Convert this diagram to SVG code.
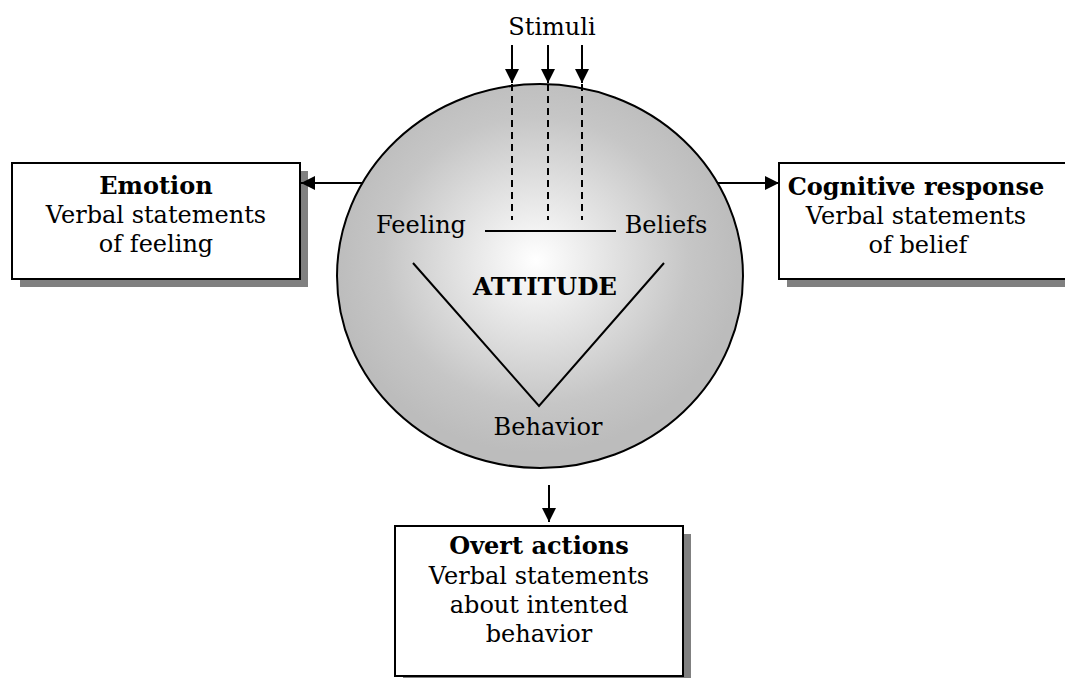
<svg xmlns="http://www.w3.org/2000/svg" width="1065" height="678" viewBox="0 0 1065 678">
  <style>
    text { font-family: "DejaVu Serif", "Liberation Serif", serif; font-size: 24px; fill: #000; text-anchor: middle; }
    .title { font-weight: bold; }
    .box { fill: #fff; stroke: #000; stroke-width: 2; }
    .shadow { fill: #808080; }
    .line { stroke: #000; stroke-width: 2; fill: none; }
    .dash { stroke: #000; stroke-width: 2; stroke-dasharray: 7 5; fill: none; }
  </style>
  <defs>
    <radialGradient id="sphere" cx="0.49" cy="0.46" r="0.5">
      <stop offset="0" stop-color="#ffffff"/>
      <stop offset="0.75" stop-color="#c6c6c6"/>
      <stop offset="1" stop-color="#bcbcbc"/>
    </radialGradient>
    <marker id="head" viewBox="0 0 10 10" refX="10" refY="5" markerWidth="14" markerHeight="14" markerUnits="userSpaceOnUse" orient="auto">
      <path d="M0,0 L10,5 L0,10 Z" fill="#000"/>
    </marker>
  </defs>

  <!-- Attitude sphere -->
  <g id="attitude">
    <ellipse cx="540" cy="276" rx="203" ry="192" fill="url(#sphere)" stroke="#000" stroke-width="2"/>
    <line class="dash" x1="512" y1="84" x2="512" y2="220"/>
    <line class="dash" x1="548" y1="84" x2="548" y2="220"/>
    <line class="dash" x1="582" y1="84" x2="582" y2="220"/>
    <line class="line" x1="485" y1="231" x2="616" y2="231"/>
    <polyline class="line" points="413,263 539,406 664,263"/>
    <text x="421" y="233">Feeling</text>
    <text x="666" y="233">Beliefs</text>
    <text class="title" x="545" y="295" textLength="144" lengthAdjust="spacingAndGlyphs">ATTITUDE</text>
    <text x="548" y="435">Behavior</text>
  </g>

  <!-- Stimuli -->
  <g id="stimuli">
    <text x="552" y="35">Stimuli</text>
  </g>

  <!-- Emotion -->
  <g id="emotion">
    <rect class="shadow" x="20" y="171" width="288" height="116"/>
    <rect class="box" x="12" y="163" width="288" height="116"/>
    <text class="title" x="156" y="194">Emotion</text>
    <text x="156" y="223">Verbal statements</text>
    <text x="156" y="252">of feeling</text>
  </g>

  <!-- Cognitive response -->
  <g id="cognitive">
    <rect class="shadow" x="787" y="171" width="288" height="116"/>
    <rect class="box" x="779" y="163" width="288" height="116"/>
    <text class="title" x="916" y="195">Cognitive response</text>
    <text x="916" y="224">Verbal statements</text>
    <text x="918" y="253">of belief</text>
  </g>

  <!-- Overt actions -->
  <g id="overt">
    <rect class="shadow" x="403" y="534" width="288" height="150"/>
    <rect class="box" x="395" y="526" width="288" height="150"/>
    <text class="title" x="539" y="554">Overt actions</text>
    <text x="539" y="584">Verbal statements</text>
    <text x="539" y="613">about intented</text>
    <text x="539" y="642">behavior</text>
  </g>

  <!-- Connectors -->
  <g id="connectors">
    <line class="line" x1="512" y1="45" x2="512" y2="83" marker-end="url(#head)"/>
    <line class="line" x1="548" y1="45" x2="548" y2="83" marker-end="url(#head)"/>
    <line class="line" x1="582" y1="45" x2="582" y2="83" marker-end="url(#head)"/>
    <line class="line" x1="362" y1="183" x2="301" y2="183" marker-end="url(#head)"/>
    <line class="line" x1="718" y1="183" x2="779" y2="183" marker-end="url(#head)"/>
    <line class="line" x1="549" y1="485" x2="549" y2="522" marker-end="url(#head)"/>
  </g>
</svg>
